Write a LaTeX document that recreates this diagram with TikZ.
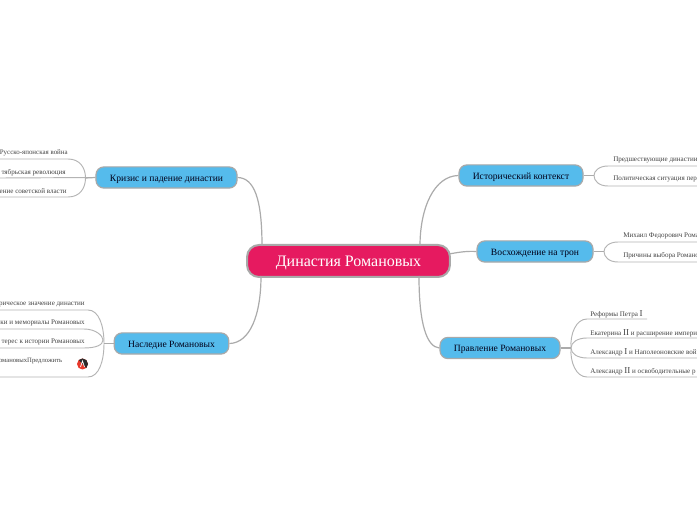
\documentclass[tikz,border=0pt]{standalone}
\usepackage{fontspec}
\setmainfont{Liberation Serif}
\newcommand{\romnum}[1]{{\fontsize{6.8}{7}\selectfont #1}}
\begin{document}
\begin{tikzpicture}[x=0.75pt,y=-0.75pt,
  link/.style={draw=linkgray,line width=0.9pt},
  branch/.style={draw=branchgray,line width=0.7pt},
  rootbox/.style={draw=boxgray,line width=1.5pt,fill=rootpink,rounded corners=9pt,text=white,font=\fontsize{12}{14}\selectfont,inner sep=0pt,text height=9pt,text depth=0pt},
  topicbox/.style={draw=boxgray,line width=0.9pt,fill=topicblue,rounded corners=6pt,text=black!90!blue,font=\fontsize{7.2}{9}\selectfont,inner sep=0pt,minimum height=15.9pt,text height=5.6pt,text depth=0pt},
  leafr/.style={anchor=east,font=\fontsize{5.3}{7}\selectfont,text=leaftext,inner sep=0pt,yshift=-1pt},
  leafl/.style={anchor=west,font=\fontsize{5.3}{7}\selectfont,text=leaftext,inner sep=0pt,yshift=-1pt}]
\definecolor{linkgray}{HTML}{ABABAB}
\definecolor{branchgray}{HTML}{B4B4B4}
\definecolor{boxgray}{HTML}{A9A9A9}
\definecolor{rootpink}{HTML}{E61A60}
\definecolor{topicblue}{HTML}{55BBEC}
\definecolor{leaftext}{HTML}{444444}
\definecolor{icondark}{HTML}{2B2B2B}
\definecolor{iconred}{HTML}{E8392B}
\useasboundingbox (0,0) rectangle (697,520);
\clip (0,0) rectangle (697,520);
\fill[white] (0,0) rectangle (697,520);

% free ends at the canvas edge
\coordinate (e1) at (0,159); \coordinate (e2) at (0,178); \coordinate (e3) at (0,197);
\coordinate (e4) at (0,310); \coordinate (e5) at (0,329); \coordinate (e6) at (0,348); \coordinate (e7) at (0,377);
\coordinate (e8) at (697,166); \coordinate (e9) at (697,186);
\coordinate (e10) at (697,242); \coordinate (e11) at (697,262);
\coordinate (e12) at (647,319); \coordinate (e13) at (697,338); \coordinate (e14) at (697,358); \coordinate (e15) at (697,377);
\coordinate (r1) at (262,246); \coordinate (r2) at (261,276); \coordinate (r3) at (420,246);
\coordinate (r4) at (449,254); \coordinate (r5) at (419,276);
\coordinate (j1) at (85.5,178); \coordinate (j2) at (104,343.5); \coordinate (j3) at (594,175.5);
\coordinate (j4) at (604,251.5); \coordinate (j5) at (571,348);

\node[rootbox,minimum width=152.2pt,minimum height=24pt] (root) at (348.5,261) {Династия Романовых};
\node[topicbox,minimum width=105.8pt] (crisis) at (166.5,177.5) {Кризис и падение династии};
\node[topicbox,minimum width=86pt] (legacy) at (171.5,343.5) {Наследие Романовых};
\node[topicbox,minimum width=93pt] (hist) at (521,175.5) {Исторический контекст};
\node[topicbox,minimum width=87pt] (rise) at (535,251.5) {Восхождение на трон};
\node[topicbox,minimum width=90pt] (rule) at (500,348) {Правление Романовых};

% connectors root-topic
\draw[link] (crisis.east) .. controls (254,178) and (262,198) .. (r1);
\draw[link] (legacy.east) .. controls (250,343) and (261,315) .. (r2);
\draw[link] (hist.west) .. controls (434,176) and (420,208) .. (r3);
\draw[link] (rise.west) .. controls (467,251) and (460,252) .. (r4);
\draw[link] (rule.west) .. controls (427,347) and (419,325) .. (r5);

% left upper
\draw[branch] (e1) -- (68,159) .. controls (80,159) and (85.5,168) .. (j1) .. controls (85.5,188) and (80,197) .. (68,197) -- (e3);
\draw[branch] (e2) -- (crisis.west);
\draw[link] (j1) -- (crisis.west);
\node[leafr,font=\fontsize{5.2}{7}\selectfont] (a1) at (68,152) {Русско-японская война};
\node[leafr] (a2) at (66,171) {тябрьская революция};
\node[leafr] (a3) at (67,190) {ение советской власти};

% left lower
\draw[branch] (e4) -- (88,310) .. controls (99,310) and (104,326) .. (j2) .. controls (104,361) and (99,377) .. (88,377) -- (e7);
\draw[branch] (e5) -- (84,329) .. controls (96,329) and (103,336) .. (103,340) .. controls (103,345) and (96,348) .. (84,348) -- (e6);
\draw[link] (j2) -- (legacy.west);
\node[leafr] (b1) at (85,303) {рическое значение династии};
\node[leafr] (b2) at (85,322) {ки и мемориалы Романовых};
\node[leafr] (b3) at (85,341) {терес к истории Романовых};
\node[leafr,font=\fontsize{5}{7}\selectfont] (b4) at (62.5,360) {омановыхПредложить};
\begin{scope}
\clip (82.5,364) circle (5.5);
\fill[iconred] (76,357) rectangle (89,371);
\fill[icondark] (76,357) -- (89,357) -- (89,371) -- cycle;
\draw[white,line width=0.5pt] (80.5,367) -- (82.5,361) -- (84.5,367);
\end{scope}

% right upper
\draw[branch] (e8) -- (608,166) .. controls (599,166) and (594,171) .. (j3) .. controls (594,181) and (599,186) .. (608,186) -- (e9);
\draw[link] (hist.east) -- (j3);
\node[leafl] (c1) at (613,159) {Предшествующие династии};
\node[leafl] (c2) at (613,178) {Политическая ситуация пер};

\draw[branch] (e10) -- (618,242) .. controls (609,242) and (604,247) .. (j4) .. controls (604,257) and (609,262) .. (618,262) -- (e11);
\draw[link] (rise.east) -- (j4);
\node[leafl] (d1) at (623,235) {Михаил Федорович Рома};
\node[leafl] (d2) at (623,254) {Причины выбора Романо};

% right lower
\draw[branch] (e12) -- (587,319) .. controls (576,319) and (570,334) .. (j5) .. controls (570,362) and (576,377) .. (587,377) -- (e15);
\draw[branch] (e13) -- (587,338) .. controls (578,338) and (571,342) .. (j5) .. controls (571,354) and (578,358) .. (587,358) -- (e14);
\draw[link] (rule.east) -- (j5);
\node[leafl] (f1) at (590,312.5) {Реформы Петра \romnum{I}};
\node[leafl] (f2) at (590,331.5) {Екатерина \romnum{II} и расширение импери};
\node[leafl] (f3) at (590,351) {Александр \romnum{I} и Наполеоновские вой};
\node[leafl] (f4) at (590,370) {Александр \romnum{II} и освободительные р};
\end{tikzpicture}
\end{document}
